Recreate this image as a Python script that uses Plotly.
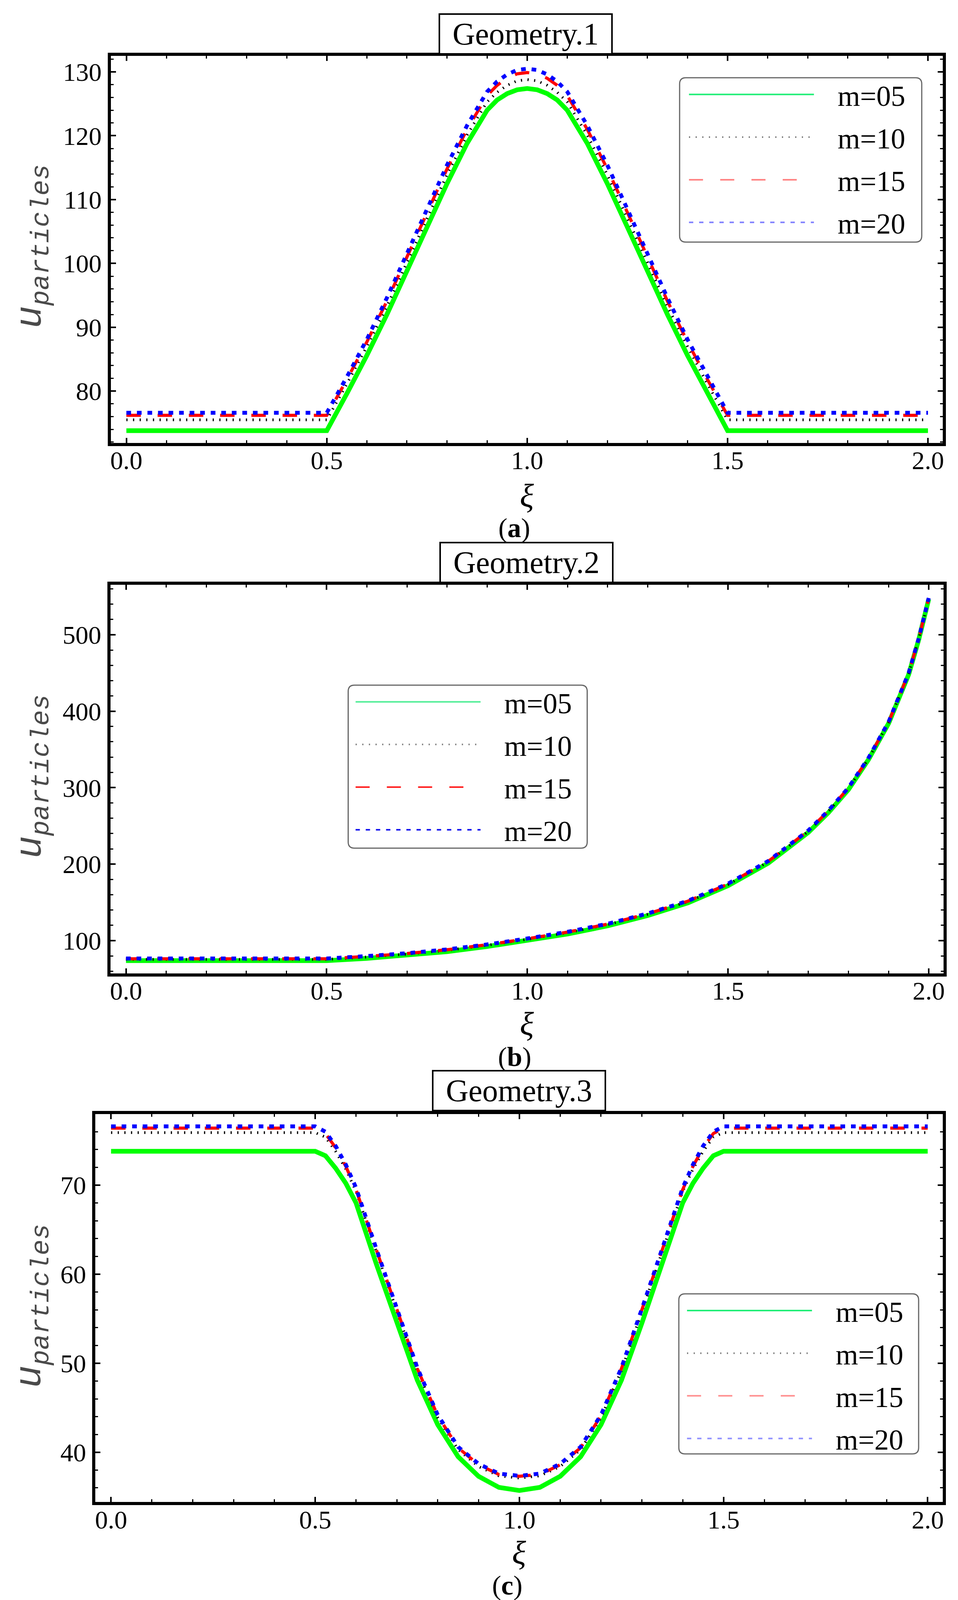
import plotly.graph_objects as go

# ---- data ----
names = ["m=05", "m=10", "m=15", "m=20"]

# Geometry.1
xi_a = [0.0, 0.5, 0.55, 0.6, 0.65, 0.7, 0.75, 0.8, 0.85, 0.9, 0.925, 0.95, 0.975, 1.0,
        1.025, 1.05, 1.075, 1.1, 1.15, 1.2, 1.25, 1.3, 1.35, 1.4, 1.45, 1.5, 2.0]
u_a_05 = [73.8, 73.8, 79.6, 85.6, 92.0, 98.8, 105.7, 112.5, 118.8, 124.0, 125.6, 126.6, 127.2, 127.4,
          127.2, 126.6, 125.6, 124.0, 118.8, 112.5, 105.7, 98.8, 92.0, 85.6, 79.6, 73.8, 73.8]
u_a_10 = [75.5, 75.5, 81.1, 87.0, 93.3, 100.2, 107.1, 113.9, 120.1, 125.3, 126.8, 127.9, 128.6, 128.8,
          128.6, 127.9, 126.8, 125.3, 120.1, 113.9, 107.1, 100.2, 93.3, 87.0, 81.1, 75.5, 75.5]
u_a_15 = [76.2, 76.2, 81.8, 87.7, 94.1, 101.0, 108.0, 114.8, 121.0, 126.3, 127.9, 129.0, 129.7, 129.9,
          129.7, 129.0, 127.9, 126.3, 121.0, 114.8, 108.0, 101.0, 94.1, 87.7, 81.8, 76.2, 76.2]
u_a_20 = [76.6, 76.6, 82.2, 88.1, 94.6, 101.5, 108.5, 115.4, 121.6, 126.9, 128.5, 129.6, 130.3, 130.5,
          130.3, 129.6, 128.5, 126.9, 121.6, 115.4, 108.5, 101.5, 94.6, 88.1, 82.2, 76.6, 76.6]

# Geometry.2
xi_b = [0.0, 0.5, 0.6, 0.7, 0.8, 0.9, 1.0, 1.1, 1.2, 1.3, 1.4, 1.5, 1.6, 1.65, 1.7, 1.75,
        1.8, 1.85, 1.9, 1.95, 1.975, 2.0]
u_b_05 = [73.8, 73.8, 76.8, 80.6, 85.6, 92.3, 100.0, 108.7, 119.3, 132.8, 149.4, 171.8, 201.3, 221.0,
          241.5, 267.3, 297.5, 336.8, 384.0, 448.0, 493.5, 546.5]
u_b_10 = [75.5, 75.5, 78.6, 82.4, 87.4, 94.0, 101.8, 110.5, 121.0, 134.5, 151.0, 173.4, 203.0, 222.5,
          243.0, 269.0, 299.0, 338.0, 385.2, 449.2, 494.4, 547.4]
u_b_15 = [76.2, 76.2, 79.4, 83.1, 88.1, 94.6, 102.4, 111.1, 121.6, 135.1, 151.6, 174.0, 203.6, 223.1,
          243.6, 269.6, 299.6, 338.6, 385.6, 449.6, 494.7, 547.7]
u_b_20 = [76.6, 76.6, 79.8, 83.5, 88.5, 95.0, 102.8, 111.5, 122.0, 135.5, 152.0, 174.5, 204.0, 223.5,
          244.0, 270.0, 300.0, 339.0, 386.0, 450.0, 495.0, 548.0]

# Geometry.3
xi_c = [0.0, 0.5, 0.525, 0.55, 0.575, 0.6, 0.65, 0.7, 0.75, 0.8, 0.85, 0.9, 0.95, 1.0,
        1.05, 1.1, 1.15, 1.2, 1.25, 1.3, 1.35, 1.4, 1.425, 1.45, 1.475, 1.5, 2.0]
u_c_05 = [73.8, 73.8, 73.3, 71.9, 70.2, 68.0, 61.1, 54.5, 48.1, 43.1, 39.5, 37.3, 36.05, 35.7,
          36.05, 37.3, 39.5, 43.1, 48.1, 54.5, 61.1, 68.0, 70.2, 71.9, 73.3, 73.8, 73.8]
u_c_10 = [75.9, 75.9, 75.4, 73.8, 71.8, 69.3, 62.5, 55.8, 49.2, 43.9, 40.3, 38.4, 37.35, 37.1,
          37.35, 38.4, 40.3, 43.9, 49.2, 55.8, 62.5, 69.3, 71.8, 73.8, 75.4, 75.9, 75.9]
u_c_15 = [76.4, 76.4, 75.8, 74.2, 72.1, 69.5, 62.7, 56.0, 49.4, 44.1, 40.5, 38.6, 37.5, 37.3,
          37.5, 38.6, 40.5, 44.1, 49.4, 56.0, 62.7, 69.5, 72.1, 74.2, 75.8, 76.4, 76.4]
u_c_20 = [76.6, 76.6, 76.0, 74.4, 72.3, 69.7, 62.8, 56.1, 49.5, 44.2, 40.6, 38.7, 37.6, 37.35,
          37.6, 38.7, 40.6, 44.2, 49.5, 56.1, 62.8, 69.7, 72.3, 74.4, 76.0, 76.6, 76.6]

panels = [
    (xi_a, [u_a_05, u_a_10, u_a_15, u_a_20]),
    (xi_b, [u_b_05, u_b_10, u_b_15, u_b_20]),
    (xi_c, [u_c_05, u_c_10, u_c_15, u_c_20]),
]

W = 2453
REF_H = 4847   # height of the reference picture, positions below are read in its pixels
H = 4096       # the browser only photographs 4096 px, so the whole stack is fitted into that


def py(y):
    # reference pixel row -> paper fraction
    return 1 - y / REF_H


serif = "Liberation Serif"

# curve styles (plot) and legend sample styles
curve_style = [
    dict(color="#00ff00", width=12, dash="solid"),
    dict(color="black", width=7, dash="3px,14px"),
    dict(color="#ff0000", width=8, dash="37px,43px"),
    dict(color="#0000ff", width=10, dash="12px,15px"),
]
legend_colors = [
    ["#22ee77", "#777777", "#ff8080", "#8080ff"],
    ["#55ee99", "#777777", "#ff2020", "#1010ee"],
    ["#22ee77", "#777777", "#ff9090", "#9090ff"],
]
legend_dash = ["solid", "3px,14px", "36px,44px", "11px,15px"]
pad = "\u00a0\u00a0\u00a0"

fig = go.Figure()

for p, (xs, ys) in enumerate(panels):
    ax = "" if p == 0 else str(p + 1)
    for k, y in enumerate(ys):
        fig.add_trace(go.Scatter(x=xs, y=y, mode="lines", line=curve_style[k],
                                 showlegend=False, xaxis="x" + ax, yaxis="y" + ax))
    # legend samples: thin, lighter lines as in the original
    for k in range(4):
        fig.add_trace(go.Scatter(x=[None], y=[None], mode="lines", name=pad + names[k],
                                 line=dict(color=legend_colors[p][k], width=4, dash=legend_dash[k]),
                                 legend="legend" + ax, legendgroup="g%d%d" % (p, k),
                                 xaxis="x" + ax, yaxis="y" + ax))

# plot-area boxes in reference px (left, right, top, bottom)
boxes = [(275, 2409, 160, 1332), (274, 2411, 1762, 2939), (235, 2409, 3365, 4541)]
yranges = [[71.9, 132.5], [57.3, 565.3], [34.4, 78.0]]
ydticks = [10, 100, 10]
yminor = [2, 20, 2]

tickfont = dict(family=serif, size=66, color="black")
layout = dict(
    width=W, height=H,
    margin=dict(l=0, r=0, t=0, b=0),
    paper_bgcolor="white", plot_bgcolor="white",
    font=dict(family=serif, size=66, color="black"),
)
for p in range(3):
    ax = "" if p == 0 else str(p + 1)
    l, r, t, b = boxes[p]
    common = dict(showline=True, linewidth=8, linecolor="black", mirror="allticks",
                  ticks="inside", ticklen=13, tickwidth=4, tickcolor="black",
                  showgrid=False, zeroline=False, tickfont=tickfont)
    layout["xaxis" + ax] = dict(
        common, domain=[l / W, r / W], anchor="y" + ax, range=[-0.039, 2.037],
        tick0=0, dtick=0.5, tickformat=".1f", ticklabelstandoff=-20,
        minor=dict(dtick=0.1, ticks="inside", ticklen=7, tickwidth=3, tickcolor="black"))
    layout["yaxis" + ax] = dict(
        common, domain=[py(b), py(t)], anchor="x" + ax, range=yranges[p],
        tick0=0, dtick=ydticks[p], ticklabelstandoff=2,
        minor=dict(dtick=yminor[p], ticks="inside", ticklen=7, tickwidth=3, tickcolor="black"))

# legend frames (reference px: left, right, top, bottom) and where the sample lines start
legend_box = [(1734, 2355, 226, 724), (884, 1497, 2066, 2560), (1732, 2347, 3910, 4395)]
line_start = [1758, 903, 1753]
shapes = []
for p in range(3):
    key = "legend" if p == 0 else "legend" + str(p + 1)
    x0, x1, t, b = legend_box[p]
    layout[key] = dict(x=(line_start[p] - 5) / W, y=py(t - 14), xanchor="left", yanchor="top",
                       bgcolor="rgba(0,0,0,0)", borderwidth=0,
                       font=dict(family=serif, size=74, color="black"),
                       itemwidth=320, tracegroupgap=10, traceorder="grouped")
    # rounded white frame behind the legend
    X0, X1, Y0, Y1 = x0 / W, x1 / W, py(b), py(t)
    rx, ry = 16 / W, 16 / H
    path = ("M %f,%f L %f,%f Q %f,%f %f,%f L %f,%f Q %f,%f %f,%f L %f,%f Q %f,%f %f,%f "
            "L %f,%f Q %f,%f %f,%f Z" % (
                X0 + rx, Y1, X1 - rx, Y1, X1, Y1, X1, Y1 - ry,
                X1, Y0 + ry, X1, Y0, X1 - rx, Y0,
                X0 + rx, Y0, X0, Y0, X0, Y0 + ry,
                X0, Y1 - ry, X0, Y1, X0 + rx, Y1))
    shapes.append(dict(type="path", path=path, xref="paper", yref="paper", layer="above",
                       fillcolor="white", line=dict(color="#666666", width=3)))
layout["shapes"] = shapes

fig.update_layout(**layout)

# titles, axis labels, panel letters (reference px)
titles = ["Geometry.1", "Geometry.2", "Geometry.3"]
title_pos = [(1339, 93), (1341, 1695), (1322, 3295)]
xlab_pos = [(1342, 1492), (1342, 3092), (1322, 4694)]
ylab_pos = [(75, 737), (75, 2343), (75, 3947)]
letter_pos = [(1310, 1590), (1311, 3192), (1292, 4793)]
letters = ["a", "b", "c"]

for p in range(3):
    tx, ty = title_pos[p]
    fig.add_annotation(x=tx / W, y=py(ty), xref="paper", yref="paper", showarrow=False,
                       text=titles[p], font=dict(family=serif, size=80, color="black"),
                       bordercolor="black", borderwidth=4, bgcolor="white",
                       width=436, height=96, xanchor="center", yanchor="middle")
    xx, xy = xlab_pos[p]
    fig.add_annotation(x=xx / W, y=py(xy), xref="paper", yref="paper", showarrow=False,
                       text="<i>ξ</i>", font=dict(family=serif, size=84, color="black"),
                       xanchor="center", yanchor="middle")
    yx, yy = ylab_pos[p]
    fig.add_annotation(x=yx / W, y=py(yy), xref="paper", yref="paper", showarrow=False,
                       text="<i>u<sub>particles</sub></i>", textangle=-90,
                       font=dict(family="Liberation Mono", size=96, color="#4a4a4a"),
                       xanchor="center", yanchor="middle")
    lx, ly = letter_pos[p]
    fig.add_annotation(x=lx / W, y=py(ly), xref="paper", yref="paper", showarrow=False,
                       text="(<b>%s</b>)" % letters[p], font=dict(family=serif, size=70, color="black"),
                       xanchor="center", yanchor="middle")

fig.write_html("out.html")
